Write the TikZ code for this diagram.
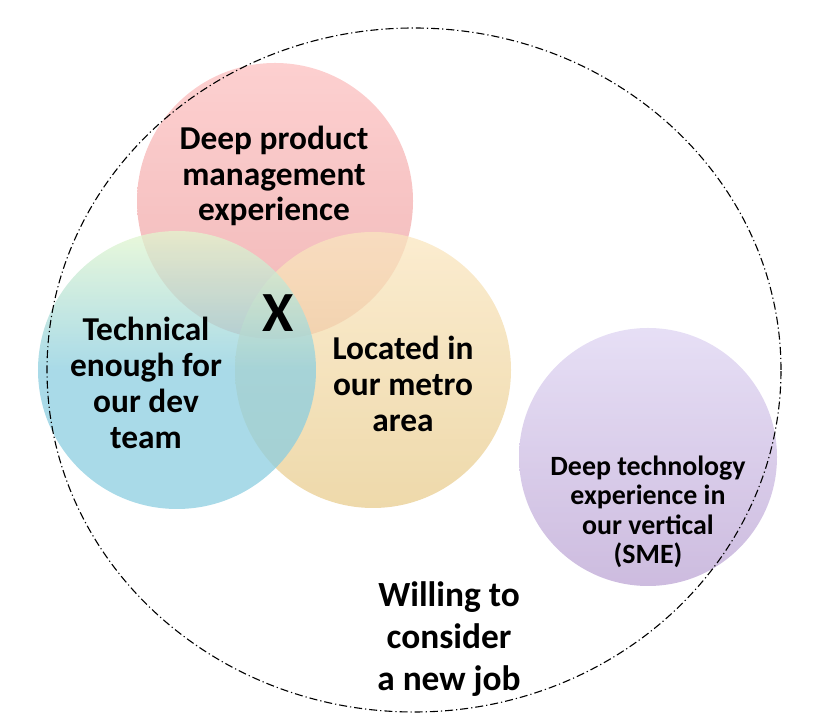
\documentclass[tikz,border=0pt]{standalone}
\usepackage{fontspec}
\setmainfont{Carlito}
\definecolor{pinkT}{RGB}{252,192,192}
\definecolor{pinkB}{RGB}{236,160,160}
\definecolor{blueT}{RGB}{226,246,206}
\definecolor{blueB}{RGB}{140,206,224}
\definecolor{yelT}{RGB}{250,230,192}
\definecolor{yelB}{RGB}{232,204,142}
\definecolor{purT}{RGB}{222,212,242}
\definecolor{purB}{RGB}{188,165,212}
\begin{document}
\begin{tikzpicture}[x=1bp,y=1bp,
  blob/.style={circle, draw=none, inner sep=0pt, outer sep=0pt, fill opacity=0.75},
  lbl/.style={font=\bfseries\fontsize{33.5}{36}\selectfont, align=center, text=black},
  small/.style={font=\bfseries\fontsize{28}{29.5}\selectfont, align=center, text=black},
  big/.style={font=\bfseries\fontsize{35.5}{42}\selectfont, align=center, text=black},
  outline/.style={draw=black, line width=1.1bp, dash pattern=on 8bp off 3bp on 1.2bp off 3bp}]
\useasboundingbox (0,0) rectangle (819,726);
\node[blob, minimum size=276bp, top color=pinkT, bottom color=pinkB] (pink) at (275,525) {};
\node[blob, minimum size=276bp, top color=yelT, bottom color=yelB] (yellow) at (373,356) {};
\node[blob, minimum size=278bp, top color=blueT, bottom color=blueB, middle color=blueB] (blue) at (177,356) {};
\node[blob, minimum size=258bp, top color=purT, bottom color=purB] (purple) at (648,269) {};
\draw[outline] (414,356) ellipse[x radius=367, y radius=342];
\node[lbl] (tpink) at (274,550) {Deep product\\management\\experience};
\node[lbl] (tblue) at (146,343) {Technical\\enough for\\our dev\\team};
\node[lbl] (tyel) at (403,342) {Located in\\our metro\\area};
\node[small] (tpur) at (648,214) {Deep technology\\experience in\\our vertical\\(SME)};
\node[big] (twill) at (449,87) {Willing to\\consider\\a new job};
\node[font=\bfseries\fontsize{57}{60}\selectfont] (x) at (278,413) {X};
\end{tikzpicture}
\end{document}
